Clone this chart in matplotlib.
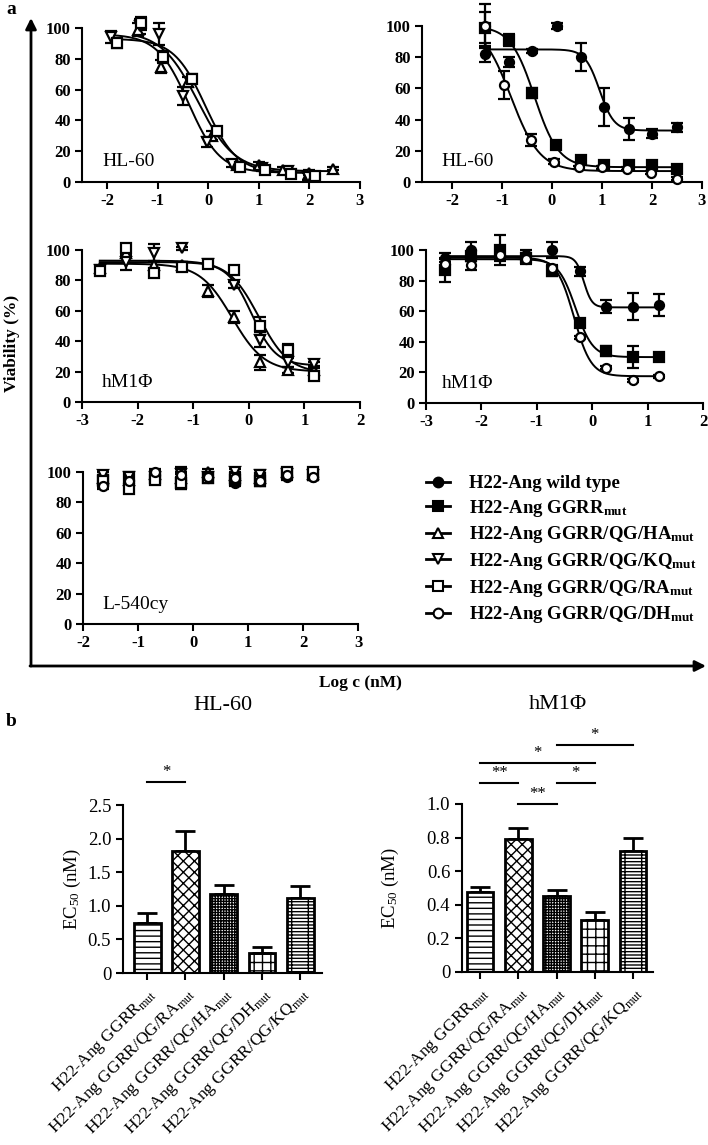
import numpy as np
import matplotlib
matplotlib.use("Agg")
import matplotlib.pyplot as plt
import matplotlib.ticker as mtick
from matplotlib.lines import Line2D

# ---------------- data: panel a (viability, %) ----------------
# HL-60, left panel (open-marker mutants)
hl60_ha_x = [-1.4, -0.93, -0.4, 0.07, 0.57, 1.0, 1.47, 2.0, 2.47]
hl60_ha_y = [99, 75, 65, 30, 11, 11, 8, 6, 8.7]
hl60_ha_e = [4, 4, 3, 3, 2, 2, 1.5, 1.5, 1]
hl60_kq_x = [-1.93, -1.35, -0.97, -0.5, -0.02, 0.47, 1.07, 1.57, 1.97]
hl60_kq_y = [94, 101, 96, 56, 26, 12, 9, 7, 3.5]
hl60_kq_e = [4, 5, 7, 6, 3, 2, 2, 1.5, 2.5]
hl60_ra_x = [-1.8, -1.33, -0.9, -0.33, 0.18, 0.63, 1.13, 1.63, 2.1]
hl60_ra_y = [90, 103, 81, 67, 33, 10, 8, 5.5, 4]
hl60_ra_e = [3, 4, 4, 3, 2.5, 2, 1.5, 1.5, 1.5]

# HL-60, right panel
hl60_wt_x = [-1.35, -0.87, -0.4, 0.1, 0.57, 1.03, 1.53, 2.0, 2.5]
hl60_wt_y = [82, 77, 84, 100, 80, 48, 34, 31, 35]
hl60_wt_e = [5, 3, 1, 2, 9, 12, 7, 3, 3]
hl60_gg_x = [-1.35, -0.87, -0.4, 0.07, 0.57, 1.03, 1.53, 2.0, 2.5]
hl60_gg_y = [99, 91, 57, 24, 14, 11, 11, 11, 8.5]
hl60_gg_e = [10, 4, 3, 1, 1.5, 1, 1, 1, 1]
hl60_dh_x = [-1.35, -0.97, -0.43, 0.03, 0.53, 1.0, 1.5, 1.98, 2.5]
hl60_dh_y = [100, 62, 27, 13, 9.5, 9.5, 8.5, 6, 2]
hl60_dh_e = [14, 9, 4, 1.5, 1, 1, 1, 1, 1]

# hM1Phi, left panel
m1_x = [-2.68, -2.2, -1.7, -1.2, -0.73, -0.27, 0.2, 0.7, 1.18]
m1_ha_y = [88, 98, 90, 90, 73, 56, 26, 21, 21]
m1_ha_e = [2, 3, 3, 2, 4, 4, 5, 2, 1.5]
m1_kq_y = [87, 92, 98, 101, 91, 77, 41, 26, 25]
m1_kq_e = [2, 5, 6, 1, 2, 2, 5, 3, 1.5]
m1_ra_y = [86, 101, 85, 89, 91, 87, 50, 34, 17]
m1_ra_e = [2, 3, 2, 2, 2, 1.5, 6, 4, 1.5]

# hM1Phi, right panel
m1r_x = [-2.65, -2.18, -1.67, -1.2, -0.73, -0.22, 0.25, 0.73, 1.2]
m1_wt_y = [95, 100, 96, 97, 100, 86, 63, 63, 64]
m1_wt_e = [3, 5, 3, 3, 5, 3, 4, 9, 7]
m1_gg_y = [87, 96, 100, 95, 86, 52, 34, 30, 30]
m1_gg_e = [8, 3, 10, 3, 3, 1.5, 3, 7, 1]
m1_dh_y = [91, 90, 97, 94, 88, 43, 23, 15, 17.5]
m1_dh_e = [3, 3, 3, 3, 2, 1, 1, 1, 1]

# L-540cy
l540_x = [-1.64, -1.16, -0.7, -0.21, 0.27, 0.76, 1.21, 1.7, 2.18]
l540_wt_y = [92, 95, 98, 95, 96, 93, 95, 97, 97]
l540_gg_y = [95, 96, 96, 93, 96, 95, 96, 99, 98]
l540_ha_y = [96, 95, 99, 96, 100, 98, 96, 100, 99]
l540_kq_y = [98, 97, 97, 99, 97, 100, 98, 99, 98]
l540_ra_y = [94, 89, 95, 93, 96, 96, 94, 100, 100]
l540_dh_y = [91, 94, 100, 98, 97, 96, 94, 98, 97]
l540_e = [2, 3, 2, 4, 2, 2, 3, 2, 2]

# fitted 4-parameter curves: (top, bottom, logEC50, hill)
fit_hl60_ha = (98, 7, -0.21, 1.2)
fit_hl60_kq = (96, 6, -0.39, 1.4)
fit_hl60_ra = (93, 6, -0.06, 1.4)
fit_hl60_wt = (85, 33, 0.95, 3.0)
fit_hl60_gg = (100, 9.5, -0.35, 1.8)
fit_hl60_dh = (102, 7, -0.82, 1.5)
fit_m1_ha = (91, 20, -0.3, 1.5)
fit_m1_kq = (92, 24, 0.05, 2.0)
fit_m1_ra = (93, 19, 0.18, 1.6)
fit_m1_wt = (96, 62.5, -0.15, 6.0)
fit_m1_gg = (94, 30, -0.3, 2.8)
fit_m1_dh = (95, 17.5, -0.33, 2.8)

# ---------------- data: panel b (EC50, nM) ----------------
bar_labels = [r"H22-Ang GGRR$_{\mathrm{mut}}$", r"H22-Ang GGRR/QG/RA$_{\mathrm{mut}}$",
              r"H22-Ang GGRR/QG/HA$_{\mathrm{mut}}$", r"H22-Ang GGRR/QG/DH$_{\mathrm{mut}}$",
              r"H22-Ang GGRR/QG/KQ$_{\mathrm{mut}}$"]
ec50_hl60 = [0.74, 1.82, 1.17, 0.30, 1.12]
ec50_hl60_err = [0.16, 0.30, 0.14, 0.08, 0.18]
ec50_m1 = [0.475, 0.79, 0.45, 0.31, 0.72]
ec50_m1_err = [0.03, 0.07, 0.04, 0.045, 0.08]
sig_hl60 = [(0, 1, 2.84, "*")]
sig_m1 = [(2, 4, 1.35, "*"), (0, 3, 1.244, "*"), (0, 1, 1.125, "**"),
          (2, 3, 1.125, "*"), (1, 2, 1.0, "**")]
hatches = ["---", "xxx", "++++++", "++", "-----|"]

legend_labels = {
    "WT": "H22-Ang wild type",
    "GG": r"H22-Ang GGRR$_{\mathbf{mut}}$",
    "HA": r"H22-Ang GGRR/QG/HA$_{\mathbf{mut}}$",
    "KQ": r"H22-Ang GGRR/QG/KQ$_{\mathbf{mut}}$",
    "RA": r"H22-Ang GGRR/QG/RA$_{\mathbf{mut}}$",
    "DH": r"H22-Ang GGRR/QG/DH$_{\mathbf{mut}}$",
}
styles = {
    "WT": ("o", "k"), "GG": ("s", "k"), "HA": ("^", "w"),
    "KQ": ("v", "w"), "RA": ("s", "w"), "DH": ("o", "w"),
}

plt.rcParams["font.family"] = ["Liberation Serif", "DejaVu Serif"]
plt.rcParams["mathtext.fontset"] = "custom"
plt.rcParams["mathtext.rm"] = "Liberation Serif"
plt.rcParams["mathtext.it"] = "Liberation Serif:italic"
plt.rcParams["mathtext.bf"] = "Liberation Serif:bold"
plt.rcParams["hatch.linewidth"] = 1.0
plt.rcParams["axes.unicode_minus"] = False

W, H = 708, 1145
fig = plt.figure(figsize=(W / 100, H / 100), dpi=100)


def px_axes(l, t, r, b):
    return fig.add_axes([l / W, 1 - b / H, (r - l) / W, (b - t) / H])


def logistic(x, top, bottom, c, h):
    return bottom + (top - bottom) / (1 + 10 ** ((x - c) * h))


def style_axes(ax, xlim, xticks):
    ax.set_xlim(*xlim)
    ax.set_ylim(0, 100)
    ax.set_xticks(list(xticks), labels=[str(v) for v in xticks],
                  fontweight="bold", fontsize=12)
    yt = list(range(0, 101, 20))
    ax.set_yticks(yt, labels=[str(v) for v in yt], fontweight="bold", fontsize=12)
    for s in ["top", "right"]:
        ax.spines[s].set_visible(False)
    for s in ["left", "bottom"]:
        ax.spines[s].set_linewidth(1.5)
    ax.tick_params(width=1.5, length=5, pad=3)


def draw_series(ax, key, x, y, e, fit=None):
    m, fc = styles[key]
    ax.errorbar(x, y, yerr=e, fmt=m, color="k", mfc=fc, mec="k", mew=1.6, ms=6.5,
                elinewidth=1.6, capsize=4, capthick=1.6, clip_on=False, zorder=3)
    if fit is not None:
        xx = np.linspace(min(x), max(x), 300)
        ax.plot(xx, logistic(xx, *fit), color="k", lw=1.4, zorder=2, clip_on=False)


def panel_label(ax, x, text):
    ax.text(x, 0.13, text, transform=ax.transAxes, fontsize=14, va="center")


# top-left: HL-60
ax = px_axes(82, 28, 360, 182)
style_axes(ax, (-2.5, 3), range(-2, 4))
draw_series(ax, "HA", hl60_ha_x, hl60_ha_y, hl60_ha_e, fit_hl60_ha)
draw_series(ax, "KQ", hl60_kq_x, hl60_kq_y, hl60_kq_e, fit_hl60_kq)
draw_series(ax, "RA", hl60_ra_x, hl60_ra_y, hl60_ra_e, fit_hl60_ra)
panel_label(ax, 0.072, "HL-60")

# top-right: HL-60
ax = px_axes(422, 26, 702, 182)
style_axes(ax, (-2.6, 3), range(-2, 4))
draw_series(ax, "WT", hl60_wt_x, hl60_wt_y, hl60_wt_e, fit_hl60_wt)
draw_series(ax, "GG", hl60_gg_x, hl60_gg_y, hl60_gg_e, fit_hl60_gg)
draw_series(ax, "DH", hl60_dh_x, hl60_dh_y, hl60_dh_e, fit_hl60_dh)
panel_label(ax, 0.071, "HL-60")

# middle-left: hM1Phi
ax = px_axes(82, 250, 360, 402)
style_axes(ax, (-3, 2), range(-3, 3))
draw_series(ax, "HA", m1_x, m1_ha_y, m1_ha_e, fit_m1_ha)
draw_series(ax, "KQ", m1_x, m1_kq_y, m1_kq_e, fit_m1_kq)
draw_series(ax, "RA", m1_x, m1_ra_y, m1_ra_e, fit_m1_ra)
panel_label(ax, 0.072, "hM1\u03a6")

# middle-right: hM1Phi
ax = px_axes(426, 250, 703, 403)
style_axes(ax, (-3, 2), range(-3, 3))
draw_series(ax, "WT", m1r_x, m1_wt_y, m1_wt_e, fit_m1_wt)
draw_series(ax, "GG", m1r_x, m1_gg_y, m1_gg_e, fit_m1_gg)
draw_series(ax, "DH", m1r_x, m1_dh_y, m1_dh_e, fit_m1_dh)
panel_label(ax, 0.058, "hM1\u03a6")

# bottom-left: L-540cy
ax = px_axes(83, 472, 358, 624)
style_axes(ax, (-2, 3), range(-2, 4))
for key, yy in [("WT", l540_wt_y), ("GG", l540_gg_y), ("HA", l540_ha_y),
                ("KQ", l540_kq_y), ("RA", l540_ra_y), ("DH", l540_dh_y)]:
    draw_series(ax, key, l540_x, yy, l540_e)
panel_label(ax, 0.069, "L-540cy")

# legend
handles = [Line2D([0], [0], color="k", lw=2, marker=styles[k][0], ms=7,
                  mfc=styles[k][1], mec="k", mew=1.5) for k in legend_labels]
fig.legend(handles, list(legend_labels.values()), loc="upper left",
           bbox_to_anchor=(426 / W, 1 - 475 / H), frameon=False, borderpad=0,
           borderaxespad=0, handlelength=1.3, handletextpad=1.0, labelspacing=0.3,
           prop={"weight": "bold", "size": 13.5})


# panel b bars
def bar_panel(ax, vals, errs, ymax, yticks, sigs, title, xlim):
    pos = np.arange(len(vals))
    bars = ax.bar(pos, vals, width=0.7, color="white", edgecolor="k", lw=2, zorder=2)
    for b, h in zip(bars, hatches):
        b.set_hatch(h)
    ax.errorbar(pos, vals, yerr=[np.zeros(len(vals)), errs], fmt="none", ecolor="k",
                elinewidth=2, capsize=7, capthick=2, zorder=1)
    ax.set_xlim(*xlim)
    ax.set_ylim(0, ymax)
    ax.set_yticks(yticks)
    ax.yaxis.set_major_formatter(mtick.FuncFormatter(lambda v, p: "0" if v == 0 else "%.1f" % v))
    ax.set_xticks(pos)
    ax.set_xticklabels(bar_labels, rotation=45, ha="right", rotation_mode="anchor", fontsize=12.5)
    for s in ["top", "right"]:
        ax.spines[s].set_visible(False)
    for s in ["left", "bottom"]:
        ax.spines[s].set_linewidth(1.5)
    ax.tick_params(width=1.5, length=5, labelsize=13.5)
    ax.tick_params(axis="x", labelsize=12.5)
    for i, j, y, star in sigs:
        ax.plot([i, j], [y, y], color="k", lw=1.5, clip_on=False)
        ax.text((i + j) / 2, y + ymax * 0.012, star, ha="center", va="bottom", fontsize=12)
    ax.set_ylabel("EC$_{50}$ (nM)", fontsize=13.5)
    ax.text(0.5, 1.595, title, transform=ax.transAxes, ha="center", va="center", fontsize=16)


ax = px_axes(123, 805, 322, 973)
bar_panel(ax, ec50_hl60, ec50_hl60_err, 2.5, [0, 0.5, 1.0, 1.5, 2.0, 2.5], sig_hl60,
          "HL-60", (-0.63, 4.57))
ax.yaxis.set_label_coords(-0.2, 0.5)

ax = px_axes(462, 804, 653, 972)
bar_panel(ax, ec50_m1, ec50_m1_err, 1.0, [0, 0.2, 0.4, 0.6, 0.8, 1.0], sig_m1,
          "hM1\u03a6", (-0.47, 4.52))
ax.yaxis.set_label_coords(-0.32, 0.5)

# overlay in pixel coordinates for the outer arrows and panel letters
ov = fig.add_axes([0, 0, 1, 1], zorder=-1)
ov.set_xlim(0, W)
ov.set_ylim(H, 0)
ov.axis("off")
ov.annotate("", xy=(31, 18), xytext=(31, 666),
            arrowprops=dict(arrowstyle="-|>", lw=2, color="k", mutation_scale=16,
                            shrinkA=0, shrinkB=0))
ov.annotate("", xy=(706, 666), xytext=(30, 666),
            arrowprops=dict(arrowstyle="-|>", lw=2, color="k", mutation_scale=16,
                            shrinkA=0, shrinkB=0))
ov.text(12, 343, "Viability (%)", rotation=90, ha="center", va="center",
        fontsize=12.5, fontweight="bold")
ov.text(360, 683, "Log c (nM)", ha="center", va="center", fontsize=12.5, fontweight="bold")
ov.text(6, 10, "a", ha="left", va="center", fontsize=14, fontweight="bold")
ov.text(6, 721, "b", ha="left", va="center", fontsize=14, fontweight="bold")

fig.savefig("out.png", dpi=100)
